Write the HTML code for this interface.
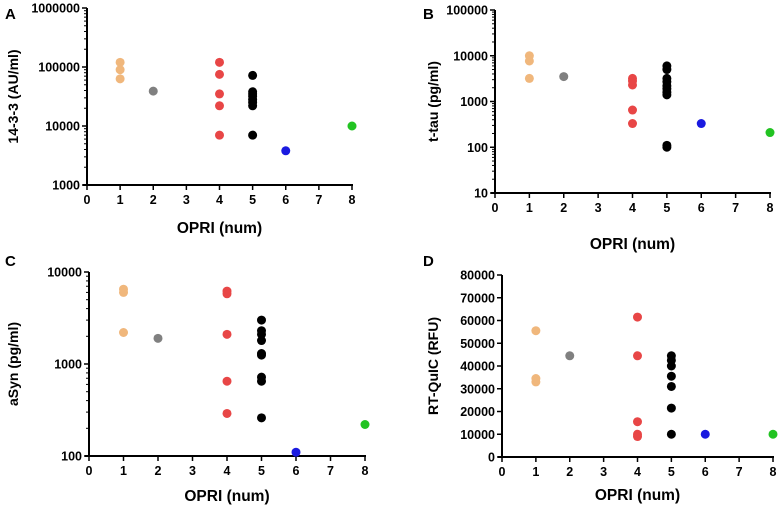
<!DOCTYPE html>
<html><head><meta charset="utf-8"><style>
body{margin:0;background:#fff;}
svg{display:block;font-family:"Liberation Sans",sans-serif;font-weight:bold;}
</style></head><body>
<svg id="fig" width="780" height="509" viewBox="0 0 780 509"></svg>
<script>
const groupX = [1, 2, 4, 5, 6, 8];
const groupColors = ["#f0b77c", "#808080", "#e84646", "#000000", "#1a1ae0", "#22c322"];
const xTicks = [0,1,2,3,4,5,6,7,8];

const aValues = [[120000,90000,63000],[39000],[120000,75000,35000,22000,7000],[72000,38000,35000,32000,28000,25000,22000,7000],[3800],[10000]];
const bValues = [[10000,7700,3200],[3500],[3200,2800,2300,650,330],[6000,5000,3200,2700,2200,1900,1600,1400,110,100],[330],[210]];
const cValues = [[6500,6000,2200],[1900],[6200,5800,2100,650,290],[3000,2300,2100,1800,1300,1250,720,650,260],[110],[220]];
const dValues = [[55500,34500,33000],[44500],[61500,44500,15500,10000,9000],[44500,42500,40000,35500,31000,21500,10000],[10000],[10000]];

const aTicks = [1000,10000,100000,1000000];
const bTicks = [10,100,1000,10000,100000];
const cTicks = [100,1000,10000];
const dTicks = [0,10000,20000,30000,40000,50000,60000,70000,80000];

const panels = [
 {id:"a",label:"A",ytitle:"14-3-3 (AU/ml)",vals:aValues,ticks:aTicks,log:true,x0:87,x1:352,yTop:8,yBot:185,lblX:5,lblY:19,ytX:18,xtY:233},
 {id:"b",label:"B",ytitle:"t-tau (pg/ml)",vals:bValues,ticks:bTicks,log:true,x0:495,x1:770,yTop:10,yBot:193,lblX:423,lblY:19,ytX:438,xtY:249},
 {id:"c",label:"C",ytitle:"aSyn (pg/ml)",vals:cValues,ticks:cTicks,log:true,x0:89,x1:365,yTop:272,yBot:456,lblX:5,lblY:266,ytX:18,xtY:501},
 {id:"d",label:"D",ytitle:"RT-QuIC (RFU)",vals:dValues,ticks:dTicks,log:false,x0:502,x1:773,yTop:275,yBot:457,lblX:423,lblY:266,ytX:438,xtY:500}
];
const NS="http://www.w3.org/2000/svg";
const svg=document.getElementById("fig");
function mk(tag,attrs,parent,text){const e=document.createElementNS(NS,tag);for(const k in attrs)e.setAttribute(k,attrs[k]);if(text!==undefined)e.textContent=text;(parent||svg).appendChild(e);return e;}

panels.forEach(p=>{
  const g=mk("g",{});
  
  
  const tmin=p.ticks[0], tmax=p.ticks[p.ticks.length-1];
  const yScale=v=>{
    if(p.log){return p.yBot-(Math.log10(v)-Math.log10(tmin))/(Math.log10(tmax)-Math.log10(tmin))*(p.yBot-p.yTop);}
    return p.yBot-(v-tmin)/(tmax-tmin)*(p.yBot-p.yTop);
  };
  const xScale=v=>p.x0+v/8*(p.x1-p.x0);
  const ya=mk("line",{x1:p.x0,y1:p.yTop,x2:p.x0,y2:p.yBot,stroke:"#000","stroke-width":2},g);
  
  
  const xa=mk("line",{x1:p.x0-4,y1:p.yBot,x2:p.x1+1,y2:p.yBot,stroke:"#000","stroke-width":2},g);
  
  
  p.ticks.forEach(t=>{
    const y=yScale(t);
    mk("line",{x1:p.x0-5,y1:y,x2:p.x0,y2:y,stroke:"#000","stroke-width":1.5},g);
    const tl=mk("text",{x:p.x0-7,y:y+4.5,"font-size":12.5,"text-anchor":"end"},g,String(t));
    
    
  });
  if(p.log){
    for(let i=0;i<p.ticks.length-1;i++){
      for(let m=2;m<=9;m++){const y=yScale(p.ticks[i]*m);
        mk("line",{x1:p.x0-3,y1:y,x2:p.x0,y2:y,stroke:"#000","stroke-width":1},g);}
    }
  }
  xTicks.forEach(t=>{
    const x=xScale(t);
    mk("line",{x1:x,y1:p.yBot,x2:x,y2:p.yBot+5,stroke:"#000","stroke-width":1.5},g);
    const tl=mk("text",{x:x,y:p.yBot+19,"font-size":12.5,"text-anchor":"middle"},g,String(t));
    
    
  });
  const xt=mk("text",{x:(p.x0+p.x1)/2,y:p.xtY,"font-size":15.5,"text-anchor":"middle"},g,"OPRI (num)");
  
  
  const cy=(p.yTop+p.yBot)/2;
  const yt=mk("text",{x:p.ytX,y:cy,"font-size":14,"text-anchor":"middle",transform:`rotate(-90 ${p.ytX} ${cy})`},g,p.ytitle);
  
  
  const lb=mk("text",{x:p.lblX,y:p.lblY,"font-size":15},g,p.label);
  
  
  p.vals.forEach((arr,gi)=>{
    arr.forEach(v=>{
      const c=mk("circle",{cx:xScale(groupX[gi]),cy:yScale(v),r:4.5,fill:groupColors[gi]},g);
      
      
    });
  });
});
</script>
</body></html>
